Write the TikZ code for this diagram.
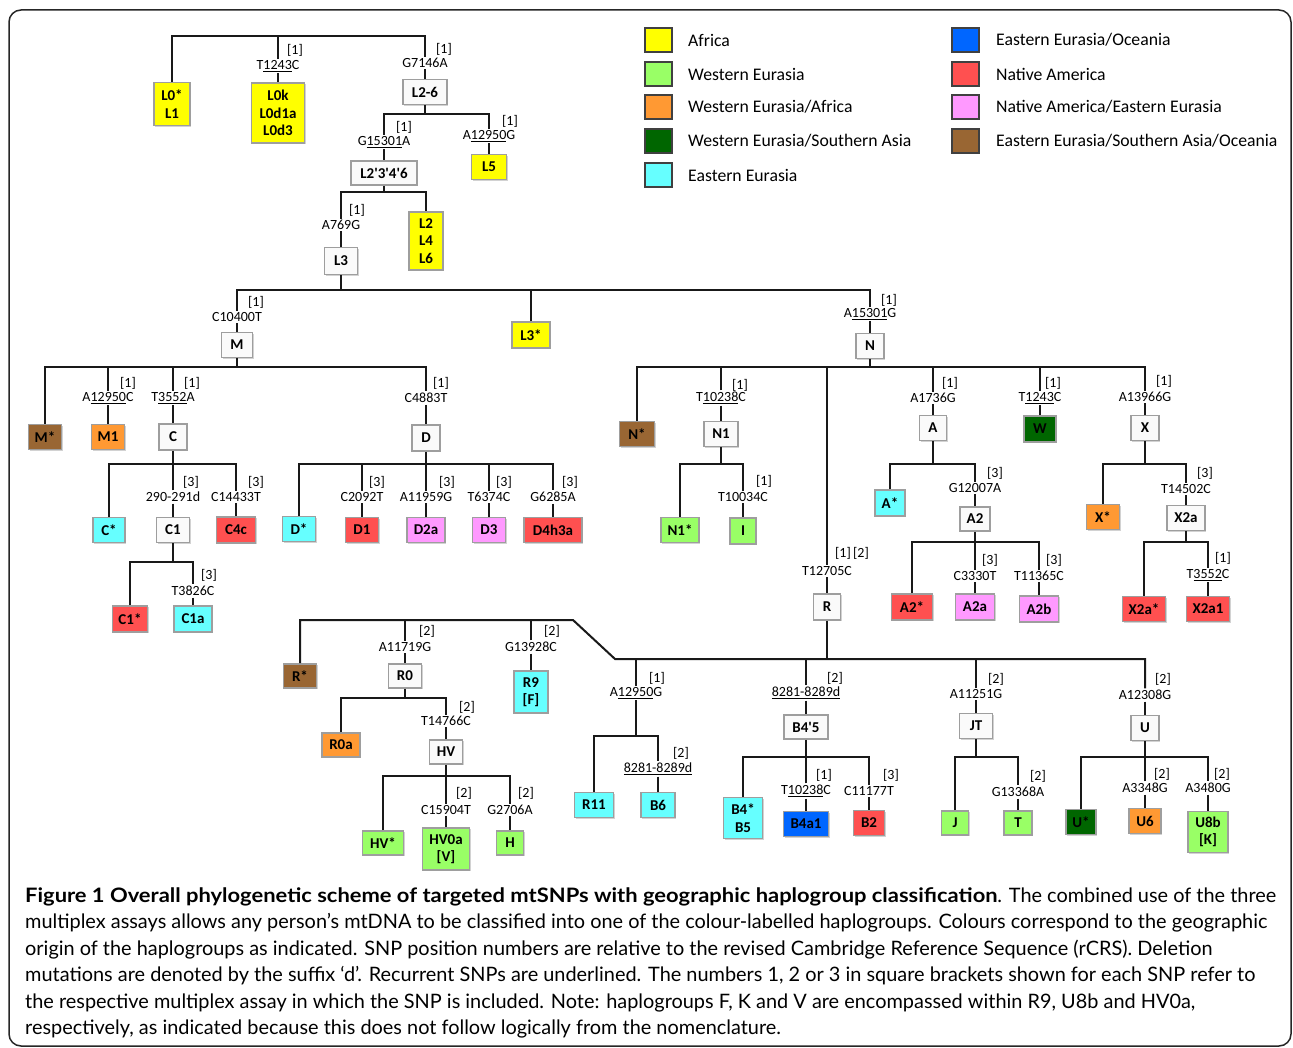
\documentclass[tikz,border=0pt]{standalone}
\usepackage{fontspec}
\setmainfont{Carlito}
\newfontfamily\labfont{Carlito}
\newfontfamily\capfont{Lato}
\usetikzlibrary{calc,shadows}
\definecolor{cAfr}{HTML}{FFFF00}
\definecolor{cWE}{HTML}{99FF66}
\definecolor{cWEA}{HTML}{FF9933}
\definecolor{cWES}{HTML}{006600}
\definecolor{cEE}{HTML}{66FFFF}
\definecolor{cEEO}{HTML}{0066FF}
\definecolor{cNA}{HTML}{FF5050}
\definecolor{cNAE}{HTML}{FF99FF}
\definecolor{cEES}{HTML}{996633}
\definecolor{cWh}{HTML}{FAFAFA}
\newcommand\hgbox[7]{\node[hg, fill=#2, minimum width=#5pt, minimum height=#6pt] (#1) at (#3,#4) {#7};}
\newcommand\snp[7]{\node[snp] (#1) at (#2,#3) {#4};\node[refn] (#1-r) at (#5,#6) {#7};}
\newcommand\treebar[4]{\draw[conn] (#1.south) -- (#1.south |- 0,#2);\draw[conn] (#3.north) |- (#4.north |- 0,#2) -- (#4.north);}
\newcommand\drop[2]{\draw[conn] (#1.north) -- (#1.north |- 0,#2);}
\newcommand\tick[2]{\draw[conn] (#1.south) -- (#1.south |- #2.north);}
\newcommand\legitem[6]{\node[sw, fill=#2] (#1) at (#3,#4) {};\node[lg] (#1-t) at (#5,#4) {#6};}
\begin{document}
\begin{tikzpicture}[x=1pt,y=-1pt,
  conn/.style={line width=2pt, draw=black!90},
  hg/.style={draw=black!38, line width=1.8pt, inner sep=0pt, align=center, text=black,
    drop shadow={shadow xshift=1.2pt, shadow yshift=-1.2pt, opacity=0.35},
    font=\labfont\bfseries\fontsize{15}{17.5}\selectfont},
  snp/.style={inner sep=1.5pt, font=\labfont\fontsize{14}{16}\selectfont},
  refn/.style={inner sep=0pt, font=\labfont\fontsize{14}{16}\selectfont},
  sw/.style={draw=black!75, line width=1.5pt, minimum width=27pt, minimum height=24pt, inner sep=0pt},
  lg/.style={anchor=west, inner sep=0pt, font=\labfont\fontsize{17.7}{20}\selectfont},
  capl/.style={anchor=base west, inner sep=0pt, font=\capfont\fontsize{19.9}{24}\selectfont}]
\fill[white] (0,0) rectangle (1293,1048);
\useasboundingbox (0,0) rectangle (1293,1048);
\draw[line width=1.5pt, black!85, rounded corners=12pt] (9,10) rectangle (1291,1046);

% legend
\legitem{k1}{cAfr}{658.5}{40}{688}{Africa}
\legitem{k2}{cWE}{658.5}{74}{688}{Western Eurasia}
\legitem{k3}{cWEA}{658.5}{107}{688}{Western Eurasia/Africa}
\legitem{k4}{cWES}{658.5}{141}{688}{Western Eurasia/Southern Asia}
\legitem{k5}{cEE}{658.5}{175}{688}{Eastern Eurasia}
\legitem{k6}{cEEO}{965.5}{40}{996}{Eastern Eurasia/Oceania}
\legitem{k7}{cNA}{965.5}{74}{996}{Native America}
\legitem{k8}{cNAE}{965.5}{107}{996}{Native America/Eastern Eurasia}
\legitem{k9}{cEES}{965.5}{141}{996}{Eastern Eurasia/Southern Asia/Oceania}

% top
\hgbox{L01}{cAfr}{172}{104}{36}{43}{L0*\\L1}
\snp{sT1243C}{278}{66}{T\underline{1243}C}{295}{50}{[1]}
\hgbox{L0k}{cAfr}{278}{113}{53}{60}{L0k\\L0d1a\\L0d3}
\snp{sG7146A}{425}{63}{G7146A}{444}{49}{[1]}
\hgbox{L26}{cWh}{425}{92}{44}{25}{L2-6}
\draw[conn] (L01.north) |- (sG7146A.north |- 0,36) -- (sG7146A.north);
\drop{sT1243C}{36}

\snp{sG15301A}{384}{142}{G\underline{15301}A}{404}{127}{[1]}
\hgbox{L2346}{cWh}{384}{173}{66}{24}{L2'3'4'6}
\snp{sA12950Ga}{489}{136}{A\underline{12950}G}{510}{121}{[1]}
\hgbox{L5}{cAfr}{489}{167}{35}{25}{L5}
\treebar{L26}{114}{sG15301A}{sA12950Ga}

\snp{sA769G}{341}{225}{A769G}{357}{210}{[1]}
\hgbox{L3}{cWh}{341}{261}{33}{27}{L3}
\hgbox{L246}{cAfr}{426}{241}{34}{58}{L2\\L4\\L6}
\treebar{L2346}{192}{sA769G}{L246}

% L3 level
\snp{sC10400T}{237}{317}{C10400T}{256}{302}{[1]}
\hgbox{M}{cWh}{237}{345}{31}{25}{M}
\hgbox{L3s}{cAfr}{531}{335}{38}{26}{L3*}
\snp{sA15301G}{870}{314}{A\underline{15301}G}{889}{300}{[1]}
\hgbox{N}{cWh}{870}{346}{28}{25}{N}
\treebar{L3}{290}{sC10400T}{sA15301G}
\drop{L3s}{290}

% M
\hgbox{Ms}{cEES}{45}{437}{33}{25}{M*}
\snp{sA12950C}{108}{398}{A\underline{12950}C}{128}{383}{[1]}
\hgbox{M1}{cWEA}{108}{437}{33}{25}{M1}
\snp{sT3552A}{173}{398}{T\underline{3552}A}{192}{383}{[1]}
\hgbox{C}{cWh}{173}{437}{28}{26}{C}
\snp{sC4883T}{426}{398}{C4883T}{441}{383}{[1]}
\hgbox{D}{cWh}{426}{438}{28}{26}{D}
\treebar{M}{367}{Ms}{sC4883T}
\drop{sA12950C}{367}
\drop{sT3552A}{367}

% C
\hgbox{Cs}{cEE}{109}{530}{32}{25}{C*}
\snp{s290}{173}{497}{290-291d}{191}{482}{[3]}
\hgbox{C1}{cWh}{173}{530}{33}{25}{C1}
\snp{sC14433T}{236}{497}{C14433T}{256}{482}{[3]}
\hgbox{C4c}{cNA}{236}{530}{39}{26}{C4c}
\treebar{C}{464}{Cs}{sC14433T}
\drop{s290}{464}

\hgbox{C1s}{cNA}{130}{619}{35}{26}{C1*}
\snp{sT3826C}{193}{591}{T3826C}{209}{575}{[3]}
\hgbox{C1a}{cEE}{193}{619}{38}{26}{C1a}
\treebar{C1}{562}{C1s}{sT3826C}

% D
\hgbox{Ds}{cEE}{299}{529}{33}{25}{D*}
\snp{sC2092T}{362}{497}{C2092T}{377}{482}{[3]}
\hgbox{D1}{cNA}{362}{530}{33}{25}{D1}
\snp{sA11959G}{426}{497}{A11959G}{447}{482}{[3]}
\hgbox{D2a}{cNAE}{426}{530}{38}{25}{D2a}
\snp{sT6374C}{489}{497}{T6374C}{504}{482}{[3]}
\hgbox{D3}{cNAE}{489}{530}{33}{25}{D3}
\snp{sG6285A}{553}{497}{G6285A}{570}{482}{[3]}
\hgbox{D4h3a}{cNA}{553}{530}{58}{25}{D4h3a}
\treebar{D}{464}{Ds}{sG6285A}
\drop{sC2092T}{464}
\drop{sA11959G}{464}
\drop{sT6374C}{464}

% N
\hgbox{Ns}{cEES}{637}{434}{35}{25}{N*}
\snp{sT10238Ca}{721}{398}{T\underline{10238}C}{740}{385}{[1]}
\hgbox{N1}{cWh}{721}{434}{34}{25}{N1}
\snp{sT12705C}{827}{571}{T12705C}{852}{553}{[1]\,[2]}
\hgbox{R}{cWh}{827}{607}{27}{26}{R}
\snp{sA1736G}{933}{398}{A1736G}{950}{383}{[1]}
\hgbox{A}{cWh}{933}{428}{27}{25}{A}
\snp{sT1243Cb}{1040}{398}{T\underline{1243}C}{1053}{383}{[1]}
\hgbox{W}{cWES}{1040}{429}{32}{26}{W}
\snp{sA13966G}{1145}{397}{A13966G}{1164}{381}{[1]}
\hgbox{X}{cWh}{1145}{428}{28}{25}{X}
\treebar{N}{367}{Ns}{sA13966G}
\drop{sT10238Ca}{367}
\drop{sT12705C}{367}
\drop{sA1736G}{367}
\drop{sT1243Cb}{367}

\hgbox{N1s}{cWE}{680}{530}{38}{25}{N1*}
\snp{sT10034C}{743}{497}{T10034C}{764}{481}{[1]}
\hgbox{I}{cWE}{743}{531}{26}{26}{I}
\treebar{N1}{464}{N1s}{sT10034C}

\hgbox{As}{cEE}{890}{503}{30}{26}{A*}
\snp{sG12007A}{975}{488}{G12007A}{995}{473}{[3]}
\hgbox{A2}{cWh}{975}{519}{30}{24}{A2}
\treebar{A}{464}{As}{sG12007A}

\hgbox{A2s}{cNA}{912}{607}{41}{26}{A2*}
\snp{sC3330T}{975}{576}{C3330T}{990}{560}{[3]}
\hgbox{A2a}{cNAE}{975}{607}{39}{26}{A2a}
\snp{sT11365C}{1039}{576}{T11365C}{1054}{560}{[3]}
\hgbox{A2b}{cNAE}{1039}{609}{39}{26}{A2b}
\treebar{A2}{542}{A2s}{sT11365C}
\drop{sC3330T}{542}

\hgbox{Xs}{cWEA}{1103}{517}{33}{25}{X*}
\snp{sT14502C}{1186}{489}{T14502C}{1205}{473}{[3]}
\hgbox{X2a}{cWh}{1186}{518}{38}{25}{X2a}
\treebar{X}{464}{Xs}{sT14502C}

\hgbox{X2as}{cNA}{1144}{609}{43}{25}{X2a*}
\snp{sT3552C}{1208}{575}{T\underline{3552}C}{1223}{558}{[1]}
\hgbox{X2a1}{cNA}{1208}{609}{43}{25}{X2a1}
\treebar{X2a}{542}{X2as}{sT3552C}

% R
\coordinate (rbA) at (573,620);
\coordinate (rbB) at (615,659);
\hgbox{Rs}{cEES}{300}{676}{33}{24}{R*}
\snp{sA11719G}{405}{647}{A11719G}{427}{631}{[2]}
\hgbox{R0}{cWh}{405}{676}{33}{24}{R0}
\snp{sG13928C}{531}{647}{G13928C}{552}{631}{[2]}
\hgbox{R9}{cEE}{531}{692}{34}{42}{R9\\{[F]}}
\snp{sA12950Gb}{636}{693}{A\underline{12950}G}{657}{678}{[1]}
\snp{s8281a}{806}{693}{\underline{8281-8289d}}{835}{678}{[2]}
\hgbox{B45}{cWh}{806}{727}{44}{24}{B4'5}
\snp{sA11251G}{976}{694}{A11251G}{996}{679}{[2]}
\hgbox{JT}{cWh}{976}{726}{33}{25}{JT}
\snp{sA12308G}{1145}{695}{A12308G}{1163}{679}{[2]}
\hgbox{U}{cWh}{1145}{728}{28}{25}{U}
\draw[conn] (R.south) -- (R.south |- rbB);
\draw[conn] (Rs.north) |- (rbA) -- (rbB) -| (sA12308G.north);
\drop{sA11719G}{620}
\drop{sG13928C}{620}
\drop{sA12950Gb}{659}
\drop{s8281a}{659}
\drop{sA11251G}{659}

\hgbox{R0a}{cWEA}{341}{745}{38}{24}{R0a}
\snp{sT14766C}{446}{721}{T14766C}{467}{707}{[2]}
\hgbox{HV}{cWh}{446}{752}{33}{24}{HV}
\treebar{R0}{698}{R0a}{sT14766C}

\hgbox{HVs}{cWE}{383}{843}{41}{24}{HV*}
\snp{sC15904T}{446}{810}{C15904T}{464}{793}{[2]}
\hgbox{HV0a}{cWE}{446}{849}{47}{42}{HV0a\\{[V]}}
\snp{sG2706A}{510}{810}{G2706A}{526}{793}{[2]}
\hgbox{H}{cWE}{510}{843}{27}{24}{H}
\treebar{HV}{776}{HVs}{sG2706A}
\drop{sC15904T}{776}

\hgbox{R11}{cEE}{594}{805}{39}{25}{R11}
\snp{s8281b}{658}{769}{\underline{8281-8289d}}{681}{753}{[2]}
\hgbox{B6}{cEE}{658}{805}{34}{25}{B6}
\treebar{sA12950Gb}{736}{R11}{s8281b}

\hgbox{B4B5}{cEE}{743}{818}{39}{41}{B4*\\B5}
\snp{sT10238Cb}{806}{791}{T\underline{10238}C}{824}{775}{[1]}
\hgbox{B4a1}{cEEO}{806}{824}{45}{25}{B4a1}
\snp{sC11177T}{869}{791}{C11177T}{891}{775}{[3]}
\hgbox{B2}{cNA}{869}{823}{31}{25}{B2}
\treebar{B45}{757}{B4B5}{sC11177T}
\drop{sT10238Cb}{757}

\hgbox{J}{cWE}{955}{823}{27}{24}{J}
\snp{sG13368A}{1018}{792}{G13368A}{1038}{776}{[2]}
\hgbox{T}{cWE}{1018}{823}{28}{24}{T}
\treebar{JT}{757}{J}{sG13368A}

\hgbox{Us}{cWES}{1081}{822}{30}{25}{U*}
\snp{sA3348G}{1145}{788}{A3348G}{1162}{774}{[2]}
\hgbox{U6}{cWEA}{1145}{821}{32}{25}{U6}
\snp{sA3480G}{1208}{788}{A3480G}{1222}{774}{[2]}
\hgbox{U8b}{cWE}{1208}{832}{40}{41}{U8b\\{[K]}}
\treebar{U}{757}{Us}{sA3480G}
\drop{sA3348G}{757}

% ticks label -> box
\tick{sT1243C}{L0k}\tick{sG7146A}{L26}\tick{sG15301A}{L2346}\tick{sA12950Ga}{L5}
\tick{sA769G}{L3}\tick{sC10400T}{M}\tick{sA15301G}{N}\tick{sA12950C}{M1}
\tick{sT3552A}{C}\tick{sC4883T}{D}\tick{s290}{C1}\tick{sC14433T}{C4c}
\tick{sT3826C}{C1a}\tick{sC2092T}{D1}\tick{sA11959G}{D2a}\tick{sT6374C}{D3}
\tick{sG6285A}{D4h3a}\tick{sT10238Ca}{N1}\tick{sT12705C}{R}\tick{sA1736G}{A}
\tick{sT1243Cb}{W}\tick{sA13966G}{X}\tick{sT10034C}{I}\tick{sG12007A}{A2}
\tick{sC3330T}{A2a}\tick{sT11365C}{A2b}\tick{sT14502C}{X2a}\tick{sT3552C}{X2a1}
\tick{sA11719G}{R0}\tick{sG13928C}{R9}\tick{s8281a}{B45}\tick{sA11251G}{JT}
\tick{sA12308G}{U}\tick{sT14766C}{HV}\tick{sC15904T}{HV0a}\tick{sG2706A}{H}
\tick{s8281b}{B6}\tick{sT10238Cb}{B4a1}\tick{sC11177T}{B2}\tick{sG13368A}{T}
\tick{sA3348G}{U6}\tick{sA3480G}{U8b}

% caption
\node[capl] (cap1) at (25,902) {\scalebox{1.102}[1]{\textbf{Figure 1 Overall phylogenetic scheme of targeted mtSNPs with geographic haplogroup classification}}. The combined use of the three};
\node[capl] (cap2) at (25,928.5) {multiplex assays allows any person’s mtDNA to be classified into one of the colour-labelled haplogroups. Colours correspond to the geographic};
\node[capl] (cap3) at (25,955) {origin of the haplogroups as indicated. SNP position numbers are relative to the revised Cambridge Reference Sequence (rCRS). Deletion};
\node[capl] (cap4) at (25,981.5) {mutations are denoted by the suffix ‘d’. Recurrent SNPs are underlined. The numbers 1, 2 or 3 in square brackets shown for each SNP refer to};
\node[capl] (cap5) at (25,1008) {the respective multiplex assay in which the SNP is included. Note: haplogroups F, K and V are encompassed within R9, U8b and HV0a,};
\node[capl] (cap6) at (25,1034.5) {respectively, as indicated because this does not follow logically from the nomenclature.};
\end{tikzpicture}
\end{document}
